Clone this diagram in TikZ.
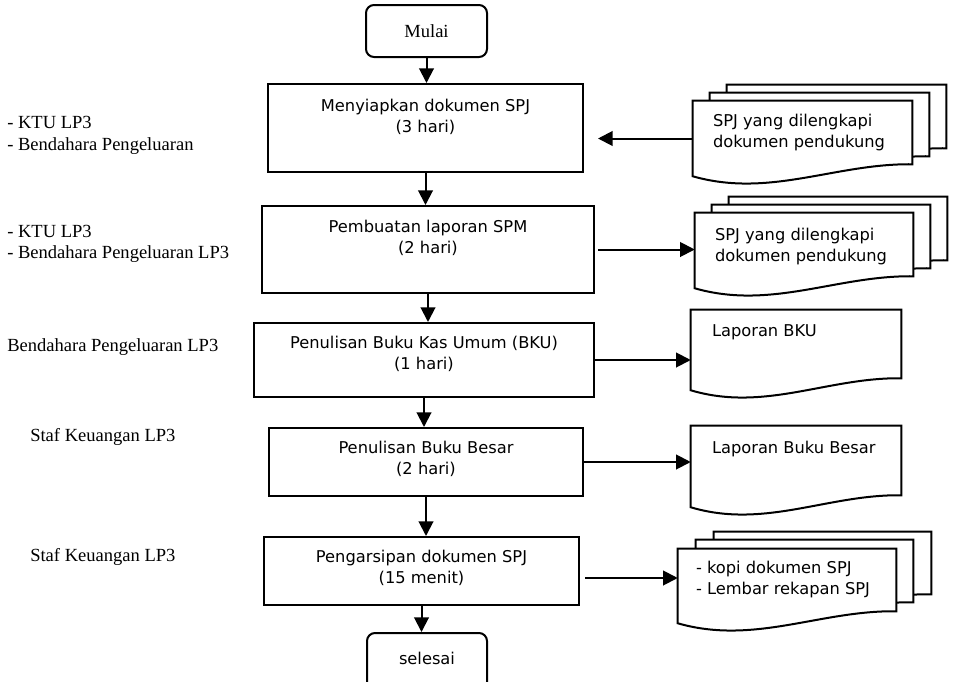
\documentclass[tikz,border=0pt]{standalone}
\usepackage{fontspec}
\setmainfont{Liberation Serif}
\newfontfamily\sansf{DejaVu Sans}
\usetikzlibrary{arrows.meta,calc,fit}
\tikzset{
  box/.style={draw, line width=1.5pt, rectangle, inner sep=0pt},
  term/.style={box, rounded corners=6pt},
  boxtext/.style={font=\sansf\fontsize{12.2}{15.6}\selectfont, align=center, inner sep=0pt, anchor=north},
  doctext/.style={font=\sansf\fontsize{12.2}{15.75}\selectfont, align=left, inner sep=0pt, anchor=north west},
  lbl/.style={font=\fontsize{13.9}{16}\selectfont, inner sep=0pt, anchor=base west},
  arr/.style={line width=1.5pt, -{Triangle[length=11pt,width=11pt]}},
  docframe/.style={rectangle, inner sep=0pt},
  docline/.style={draw, fill=white, line width=1.5pt, line join=miter},
}
\newcommand\wavydoc[1]{%
  \path[docline] (#1.north west) -- (#1.north east) -- ($(#1.south east)+(0,-12)$)
   .. controls ($(#1.south east)!0.35!(#1.south west)+(0,-13)$) and ($(#1.south west)!0.35!(#1.south east)+(0,22)$) .. (#1.south west) -- cycle;}
\begin{document}
\begin{tikzpicture}[x=0.75pt,y=-0.75pt]
\clip (0,0) rectangle (954,682);
\fill[white] (0,0) rectangle (954,682);

% process boxes
\node[term, fit={(366,5) (487,57)}] (b0) {};
\node[inner sep=0pt, font=\fontsize{13.9}{16}\selectfont] (t0) at (b0.center) {Mulai};
\node[box, fit={(268,84) (583,172)}] (b1) {};
\node[box, fit={(262,206) (594,293)}] (b2) {};
\node[box, fit={(254,323) (594,397)}] (b3) {};
\node[box, fit={(269,428) (583,496)}] (b4) {};
\node[box, fit={(264,537) (579,605)}] (b5) {};
\node[term, fit={(367,633) (487,690)}] (b6) {};
\node[inner sep=0pt, font=\sansf\fontsize{12.2}{15}\selectfont] (t6) at (427,658) {selesai};

\node[boxtext] (t1) at ($(b1.north)+(0,16)$) {Menyiapkan dokumen SPJ\\(3 hari)};
\node[boxtext] (t2) at ($(b2.north)+(0,15)$) {Pembuatan laporan SPM\\(2 hari)};
\node[boxtext] (t3) at ($(b3.north)+(0,14)$) {Penulisan Buku Kas Umum (BKU)\\(1 hari)};
\node[boxtext] (t4) at ($(b4.north)+(0,14)$) {Penulisan Buku Besar\\(2 hari)};
\node[boxtext] (t5) at ($(b5.north)+(0,14)$) {Pengarsipan dokumen SPJ\\(15 menit)};

% documents
\node[docframe, fit={(727,85) (946,160)}] (d1c) {};
\node[docframe, fit={(710,93) (929,168)}] (d1b) {};
\node[docframe, fit={(693,101) (912,176)}] (d1) {};
\wavydoc{d1c}\wavydoc{d1b}\wavydoc{d1}
\node[doctext] (td1) at ($(d1.north west)+(20,13)$) {SPJ yang dilengkapi\\dokumen pendukung};

\node[docframe, fit={(729,197) (947,272)}] (d2c) {};
\node[docframe, fit={(712,205) (930,280)}] (d2b) {};
\node[docframe, fit={(695,213) (913,288)}] (d2) {};
\wavydoc{d2c}\wavydoc{d2b}\wavydoc{d2}
\node[doctext] (td2) at ($(d2.north west)+(20,15)$) {SPJ yang dilengkapi\\dokumen pendukung};

\node[docframe, fit={(691,310) (901,390)}] (d3) {};
\wavydoc{d3}
\node[doctext] (td3) at ($(d3.north west)+(21,15)$) {Laporan BKU};

\node[docframe, fit={(691,426) (901,507)}] (d4) {};
\wavydoc{d4}
\node[doctext] (td4) at ($(d4.north west)+(21,15)$) {Laporan Buku Besar};

\node[docframe, fit={(714,532) (931,606)}] (d5c) {};
\node[docframe, fit={(696,540) (913,614)}] (d5b) {};
\node[docframe, fit={(678,549) (896,623)}] (d5) {};
\wavydoc{d5c}\wavydoc{d5b}\wavydoc{d5}
\node[doctext] (td5) at ($(d5.north west)+(18,12)$) {- kopi dokumen SPJ\\- Lembar rekapan SPJ};

% left labels
\node[lbl] (l1a) at (7,128) {- KTU LP3};
\node[lbl] (l1b) at (7,150) {- Bendahara Pengeluaran};
\node[lbl] (l2a) at (7,237) {- KTU LP3};
\node[lbl] (l2b) at (7,258) {- Bendahara Pengeluaran LP3};
\node[lbl] (l3) at (7,351) {Bendahara Pengeluaran LP3};
\node[lbl] (l4) at (30,441) {Staf Keuangan LP3};
\node[lbl] (l5) at (30,561) {Staf Keuangan LP3};

% vertical flow
\draw[arr] (b0.south) -- (b0.south |- b1.north);
\draw[arr] (b1.south) -- (b1.south |- b2.north);
\draw[arr] (b2.south) -- (b2.south |- b3.north);
\draw[arr] (b3.south) -- (b3.south |- b4.north);
\draw[arr] (b4.south) -- (b4.south |- b5.north);
\draw[arr] (b5.south) -- (b5.south |- b6.north);

% horizontal connectors
\coordinate (g1) at ($(b1.east)+(14,0)$);
\draw[arr] (d1.west) -- (d1.west -| g1);
\coordinate (g2) at ($(b2.east)+(3,0)$);
\draw[arr] (g2) -- (g2 -| d2.west);
\draw[arr] (b3.east) -- (b3.east -| d3.west);
\draw[arr] (b4.east) -- (b4.east -| d4.west);
\coordinate (g5) at ($(b5.east)+(5,7)$);
\draw[arr] (g5) -- (g5 -| d5.west);
\end{tikzpicture}
\end{document}
